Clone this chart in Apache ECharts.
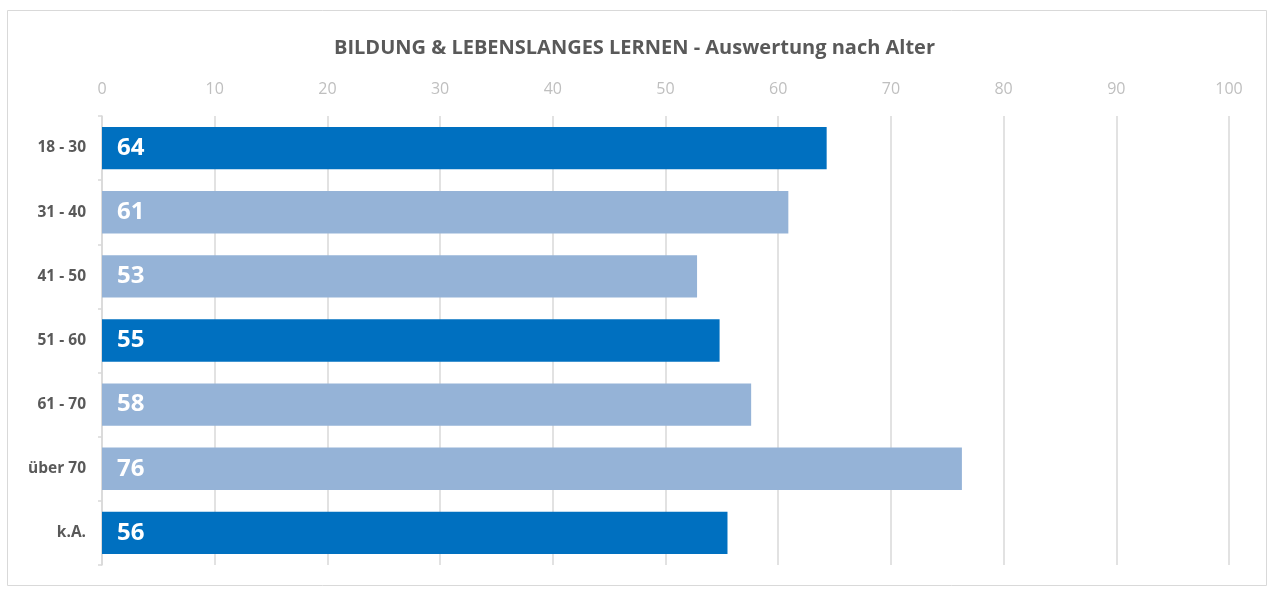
<!DOCTYPE html>
<html>
<head>
<meta charset="utf-8">
<script src="https://cdn.jsdelivr.net/npm/echarts@6/dist/echarts.min.js"></script>
<style>
  html, body { margin: 0; padding: 0; background: #fff; }
  #main { width: 1269px; height: 589px; }
</style>
</head>
<body>
<div id="main"></div>
<script>
// Altersgruppen (von oben nach unten)
var categories = ['18 - 30', '31 - 40', '41 - 50', '51 - 60', '61 - 70', 'über 70', 'k.A.']
var values = [64.3, 60.9, 52.8, 54.8, 57.6, 76.3, 55.5]
// dunkel = true, hell = false
var dark = [true, false, false, true, false, false, true]
var xTicks = [0, 10, 20, 30, 40, 50, 60, 70, 80, 90, 100]

var chart = echarts.init(document.getElementById('main'))

chart.setOption({
  animation: false,
  textStyle: { fontFamily: 'Open Sans' },
  title: {
    text: 'BILDUNG & LEBENSLANGES LERNEN - Auswertung nach Alter',
    left: 'center',
    top: 33,
    textStyle: { fontSize: 20, fontWeight: 'bold', color: '#595959', fontFamily: 'Open Sans' }
  },
  graphic: [{
    type: 'rect',
    shape: { x: 7.5, y: 10.5, width: 1259, height: 575 },
    style: { fill: 'none', stroke: '#d9d9d9', lineWidth: 1 },
    silent: true
  }],
  grid: { left: 102, right: 40, top: 116, bottom: 24 },
  xAxis: {
    type: 'value',
    position: 'top',
    min: xTicks[0],
    max: xTicks[xTicks.length - 1],
    interval: 10,
    axisLine: { show: false },
    axisTick: { show: false },
    axisLabel: { color: '#bfbfbf', fontSize: 16, margin: 19 },
    splitLine: { lineStyle: { color: '#d9d9d9', width: 1.5 } }
  },
  yAxis: {
    type: 'category',
    inverse: true,
    data: categories,
    axisLine: { lineStyle: { color: '#d9d9d9', width: 1.5 } },
    axisTick: { show: true, length: 4, lineStyle: { color: '#d9d9d9', width: 1.5 } },
    axisLabel: { color: '#595959', fontSize: 15.5, fontWeight: 'bold', margin: 16 }
  },
  series: [{
    type: 'bar',
    barCategoryGap: '34%',
    data: values.map(function (v, i) {
      return {
        value: v,
        itemStyle: { color: dark[i] ? '#0070c0' : '#95b3d7' }
      }
    }),
    label: {
      show: true,
      position: 'insideLeft',
      distance: 15,
      color: '#fff',
      fontSize: 24,
      fontWeight: 'bold',
      formatter: function (p) { return Math.round(p.value) }
    }
  }]
})
</script>
</body>
</html>
